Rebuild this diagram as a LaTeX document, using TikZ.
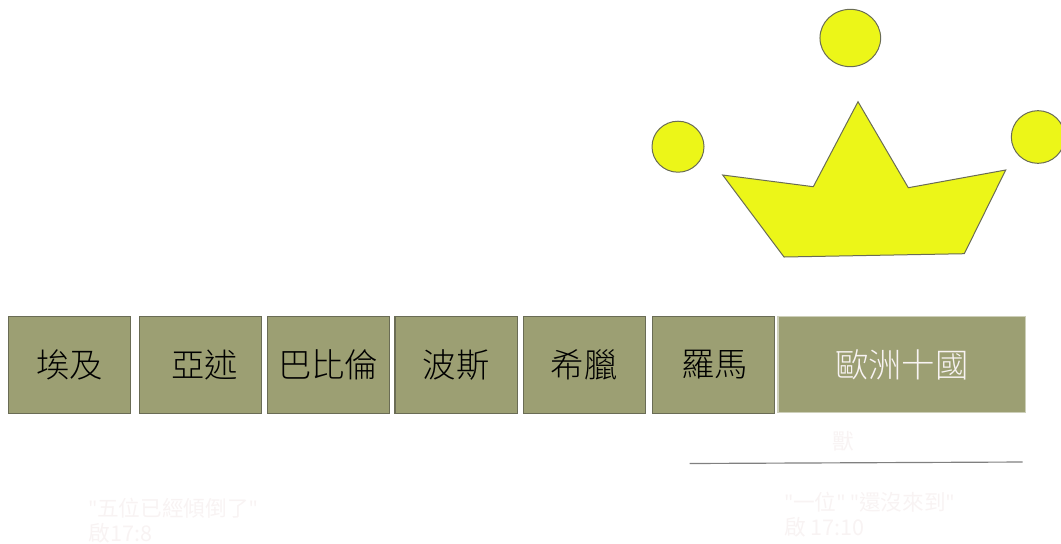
\documentclass[tikz,border=0pt]{standalone}
\usepackage{fontspec}
\setmainfont{Noto Sans CJK TC}
\newfontfamily\boxfont{Noto Sans CJK TC Light}
\newfontfamily\quotefont{Noto Sans}
\newcommand{\qt}{{\quotefont"}}
\definecolor{boxfill}{HTML}{9C9F73}
\definecolor{boxline}{HTML}{6A6C55}
\definecolor{crownfill}{HTML}{ECF618}
\definecolor{faint}{HTML}{F8F3F3}
\usetikzlibrary{shapes.geometric}
\tikzset{
  kingdom/.style={rectangle,draw=boxline,fill=boxfill,line width=0.75pt,minimum width=73.4pt,minimum height=58.4pt,inner sep=0,font=\boxfont\fontsize{20}{24}\selectfont,text=black},
  gem/.style={ellipse,draw=boxline,fill=crownfill,line width=0.6pt,inner sep=0},
  faintnote/.style={text=faint,font=\fontsize{13}{15}\selectfont,inner sep=0,align=left},
}
\begin{document}
\begin{tikzpicture}[x=0.6pt,y=-0.6pt]
  \clip (0,0) rectangle (1061,543);
  \foreach \name/\x/\dx/\label in {egypt/69.7/0/埃及,assyria/200.5/5/亞述,babylon/328.3/0/巴比倫,persia/456.2/0/波斯,greece/584.3/0/希臘,rome/713.5/1/羅馬}{
    \node [kingdom] (\name) at (\x,364.8) {\hspace*{\dx pt}\label};
  }
  \node [kingdom,draw=boxfill!50!white,minimum width=148.5pt,minimum height=58pt,text=faint] (europe) at (901.8,364.5) {歐洲十國};
  \node [faintnote] (beast) at (843,441) {獸};
  \coordinate (lineleft) at (689.5,463.5);
  \coordinate (lineright) at (1022.5,462);
  \draw[line width=0.7pt,draw=black!50] (lineleft) -- (lineright);
  \node [faintnote,anchor=north west] (fallen) at (88,498) {\qt 五位已經傾倒了\qt\\啟17:8};
  \node [faintnote,anchor=north west] (notyet) at (784,491.5) {\qt 一位\qt{} \qt 還沒來到\qt\\啟 17:10};
  \draw[draw=boxline,fill=crownfill,line width=0.6pt] (722.7,175) -- (813.3,186.7) -- (858,101.7) -- (908.3,187.7) -- (1005.7,170) -- (964.3,253.7) -- (784,257) -- cycle;
  \node [gem,minimum width=36.4pt,minimum height=34.4pt] (gemtop) at (850.3,38) {};
  \node [gem,minimum width=31.2pt,minimum height=30.6pt] (gemleft) at (678,146.7) {};
  \node [gem,minimum width=32pt,minimum height=31.6pt] (gemright) at (1038,137) {};
\end{tikzpicture}
\end{document}
